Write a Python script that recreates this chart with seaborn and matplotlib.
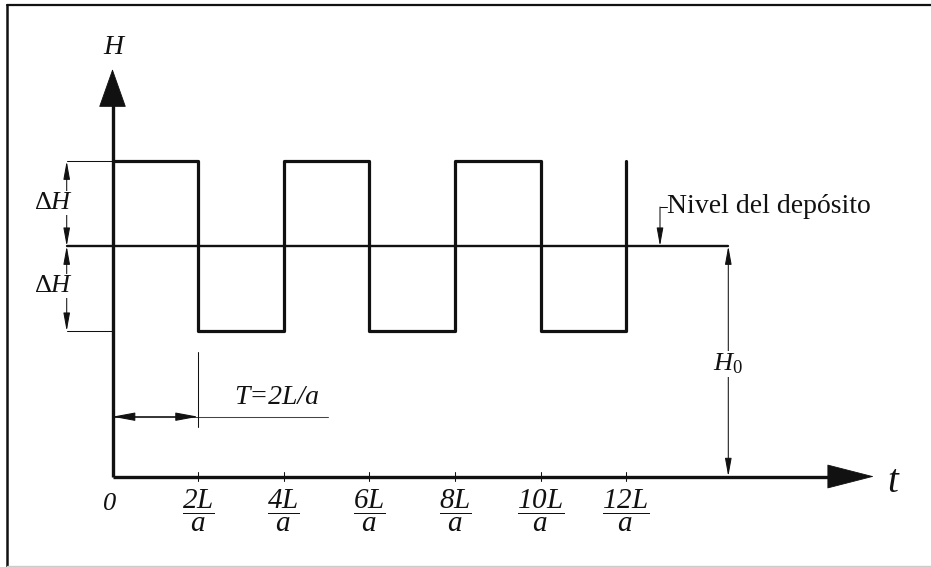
import numpy as np
import pandas as pd
import seaborn as sns
import matplotlib.pyplot as plt
from matplotlib.lines import Line2D

sns.set_theme(style='white')
plt.rcParams['font.family'] = ['Liberation Serif', 'DejaVu Serif']
plt.rcParams['mathtext.fontset'] = 'custom'
plt.rcParams['mathtext.rm'] = 'Liberation Serif'
plt.rcParams['mathtext.it'] = 'Liberation Serif:italic'
plt.rcParams['mathtext.sf'] = 'Liberation Serif:italic'

# ---------------- data ----------------
tick_t = [0, 2, 4, 6, 8, 10, 12]                     # t in units of L/a
tick_labels = ['0',
               r'$\dfrac{\mathsf{2L}}{\mathsf{a}}$',
               r'$\dfrac{\mathsf{4L}}{\mathsf{a}}$',
               r'$\dfrac{\mathsf{6L}}{\mathsf{a}}$',
               r'$\dfrac{\mathsf{8L}}{\mathsf{a}}$',
               r'$\dfrac{\mathsf{10L}}{\mathsf{a}}$',
               r'$\dfrac{\mathsf{12L}}{\mathsf{a}}$']
wave_t = [0, 2, 4, 6, 8, 10, 12, 12]                 # step edges of head wave
wave_sign = [1, -1, 1, -1, 1, -1, -1, 1]             # +dH / -dH around H0
H0 = 2.71                                            # reservoir level (units of dH)
dH = 1.0                                             # surge amplitude
period = 2                                           # T = 2L/a
level_t_end = 14.37                                  # end of reservoir level line

# ---------------- figure / scales ----------------
W, Hpx = 931, 567
fig = plt.figure(figsize=(W / 100, Hpx / 100), dpi=100)
ax = fig.add_axes([0, 0, 1, 1])
X0, Y0, SX, SY = 112.5, 476.5, 42.8, 85.0   # origin pixel and px per unit


def px2t(px):
    return (px - X0) / SX


def py2h(py):
    return (Y0 - py) / SY


ax.set_xlim(px2t(0), px2t(W))
ax.set_ylim(py2h(Hpx), py2h(0))
ax.axis('off')

black = '#111111'
thin = 0.75

# square wave of head
df = pd.DataFrame({'t': wave_t, 'H': [H0 + s * dH for s in wave_sign]})
sns.lineplot(data=df, x='t', y='H', drawstyle='steps-post', estimator=None,
             sort=False, color=black, lw=2.3, ax=ax, zorder=4)

# reservoir level line
dim_t = px2t(66.7)
sns.lineplot(x=[dim_t, level_t_end], y=[H0, H0], color=black, lw=1.7, ax=ax,
             zorder=3)

# axes with big arrowheads
ytip = py2h(69)
xtip = px2t(874)
ax.plot([0, 0], [0, py2h(104)], color=black, lw=2.4, solid_capstyle='butt', zorder=5)
ax.plot([0, px2t(830)], [0, 0], color=black, lw=2.4, solid_capstyle='butt', zorder=5)
ax.annotate('', xy=(0, ytip), xytext=(0, 0),
            arrowprops=dict(arrowstyle='-|>,head_length=26,head_width=9.2',
                            mutation_scale=1, lw=0.6, color=black,
                            shrinkA=0, shrinkB=0), zorder=5)
ax.annotate('', xy=(xtip, 0), xytext=(0, 0),
            arrowprops=dict(arrowstyle='-|>,head_length=32,head_width=8.2',
                            mutation_scale=1, lw=0.6, color=black,
                            shrinkA=0, shrinkB=0), zorder=5)

# ticks and tick labels
for t, lab in zip(tick_t, tick_labels):
    if t == 0:
        ax.text(px2t(110), py2h(504), lab, ha='center', va='center',
                fontsize=19, style='italic', color=black)
        continue
    ax.plot([t, t], [py2h(472), py2h(481)], color=black, lw=thin, zorder=5)
    ax.text(t, py2h(511), lab, ha='center', va='center', fontsize=21,
            color=black)

# axis names
ax.text(px2t(113), py2h(48), 'H', ha='center', va='center', fontsize=20,
        style='italic', color=black)
ax.text(px2t(893), py2h(482), 't', ha='center', va='center', fontsize=28,
        style='italic', color=black)

# dH dimension (left)
dim_style = '<|-|>,head_length=11,head_width=2.0'
for s in (1, -1):
    ax.plot([dim_t, 0], [H0 + s * dH, H0 + s * dH], color=black, lw=thin, zorder=2)
    ax.annotate('', xy=(dim_t, H0 + s * dH), xytext=(dim_t, H0),
                arrowprops=dict(arrowstyle=dim_style, mutation_scale=1,
                                lw=thin, color=black, shrinkA=0, shrinkB=0),
                zorder=2)
ax.text(px2t(54), py2h(203), r'$\Delta H$', ha='center', va='center',
        fontsize=19, color=black, zorder=6,
        bbox=dict(facecolor='white', edgecolor='none', pad=0.5))
ax.text(px2t(54), py2h(286), r'$\Delta H$', ha='center', va='center',
        fontsize=19, color=black, zorder=6,
        bbox=dict(facecolor='white', edgecolor='none', pad=0.5))

# H0 dimension (right)
h0_t = px2t(728.3)
ax.annotate('', xy=(h0_t, 0), xytext=(h0_t, H0),
            arrowprops=dict(arrowstyle=dim_style, mutation_scale=1,
                            lw=thin, color=black, shrinkA=0, shrinkB=0),
            zorder=2)
ax.text(h0_t, py2h(364), r'$H_0$', ha='center', va='center', fontsize=19,
        color=black, zorder=6,
        bbox=dict(facecolor='white', edgecolor='none', pad=0.3))

# reservoir level label with leader
lead_t = px2t(660)
ax.annotate('', xy=(lead_t, H0), xytext=(lead_t, py2h(207)),
            arrowprops=dict(arrowstyle='-|>,head_length=11,head_width=2.0',
                            mutation_scale=1, lw=thin, color=black,
                            shrinkA=0, shrinkB=0), zorder=3)
ax.plot([lead_t, px2t(667)], [py2h(207), py2h(207)], color=black, lw=thin)
ax.text(px2t(667), py2h(213), 'Nivel del depósito', ha='left', va='baseline',
        fontsize=20, color=black)

# period dimension
hT = py2h(416.7)
ax.plot([0, px2t(328)], [hT, hT], color='#444444', lw=thin, zorder=2)
ax.annotate('', xy=(period, hT), xytext=(0, hT),
            arrowprops=dict(arrowstyle='<|-|>,head_length=14,head_width=2.6',
                            mutation_scale=1, lw=thin, color=black,
                            shrinkA=0, shrinkB=0), zorder=3)
ax.plot([period, period], [py2h(352), py2h(427)], color=black, lw=thin)
ax.text(px2t(277), py2h(397), 'T=2L/a', ha='center', va='center', fontsize=20,
        style='italic', color=black)

# outer frame
fig.add_artist(Line2D([6.5 / W, 1], [1 - 5 / Hpx, 1 - 5 / Hpx],
                      transform=fig.transFigure, color=black, lw=1.6))
fig.add_artist(Line2D([6.5 / W, 6.5 / W], [0, 1 - 5 / Hpx],
                      transform=fig.transFigure, color=black, lw=1.8))
fig.add_artist(Line2D([6.5 / W, 1], [1 / Hpx, 1 / Hpx],
                      transform=fig.transFigure, color='#cccccc', lw=1.0))

fig.savefig('out.png', dpi=100)
